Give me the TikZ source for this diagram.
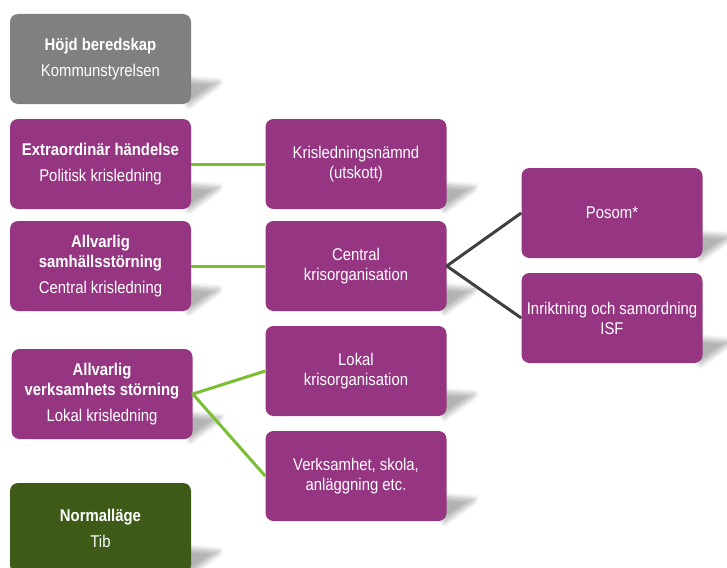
\documentclass[tikz,border=0pt]{standalone}
\usepackage{fontspec}
\setmainfont{Liberation Sans}[FakeStretch=0.875]
\usetikzlibrary{backgrounds,shadows.blur}
\definecolor{lila}{RGB}{150,54,130}
\definecolor{gra}{RGB}{128,128,128}
\definecolor{morkgron}{RGB}{61,90,23}
\definecolor{ljusgron}{RGB}{122,190,52}
\definecolor{linjegra}{RGB}{64,64,64}
\begin{document}
\begin{tikzpicture}[x=0.75pt, y=-0.75pt, font=\fontsize{12.75}{15}\selectfont, line join=round,
	box/.style={fill=lila, text=white, rounded corners=6pt, minimum width=135.75pt, minimum height=67.5pt, align=center, inner sep=2pt},
	gron/.style={draw=ljusgron, line width=2.25pt},
	morklinje/.style={draw=linjegra, line width=2.25pt},
	skugga/.style={blur shadow={shadow xshift=0pt, shadow yshift=0pt, shadow blur radius=3.5pt, shadow blur steps=8, shadow opacity=30}}]
	\useasboundingbox (0,0) rectangle (727,567);
	\clip (0,0) rectangle (727,567);
	% vänster kolumn
	\node[box, fill=gra] (hojd) at (100.5,59) {\textbf{Höjd beredskap}\\[4.5pt]Kommunstyrelsen};
	\node[box] (extra) at (100.5,164) {\textbf{Extraordinär händelse}\\[4.5pt]Politisk krisledning};
	\node[box] (samh) at (100.5,266) {\textbf{Allvarlig}\\\textbf{samhällsstörning}\\[4.5pt]Central krisledning};
	\node[box] (verks) at (102,394) {\textbf{Allvarlig}\\\textbf{verksamhets störning}\\[4.5pt]Lokal krisledning};
	\node[box, fill=morkgron] (normal) at (100.5,528) {\textbf{Normalläge}\\[4.5pt]Tib};
	% mitten
	\node[box] (kris) at (356,164) {Krisledningsnämnd\\(utskott)};
	\node[box] (central) at (356,266) {Central\\krisorganisation};
	\node[box] (lokal) at (356,371) {Lokal\\krisorganisation};
	\node[box] (verksam) at (356,476) {Verksamhet, skola,\\anläggning etc.};
	% höger
	\node[box] (posom) at (612,213) {Posom*};
	\node[box] (isf) at (612,318) {Inriktning och samordning\\ISF};

	\draw[gron] (extra.east)--(kris.west);
	\draw[gron] (samh.east)--(central.west);
	\draw[gron] (lokal.west)--(verks.east)--(verksam.west);
	\draw[morklinje] (posom.west)--(central.east)--(isf.west);

	\begin{scope}[on background layer]
		\foreach \b in {hojd,extra,samh,verks,normal,kris,central,lokal,verksam,posom,isf}
			\path[skugga] ([shift={(-6pt,19pt)}]\b.south east)--++(36,3)--++(-2,3)--([shift={(-2pt,-1pt)}]\b.south east)--cycle;
	\end{scope}
\end{tikzpicture}
\end{document}
